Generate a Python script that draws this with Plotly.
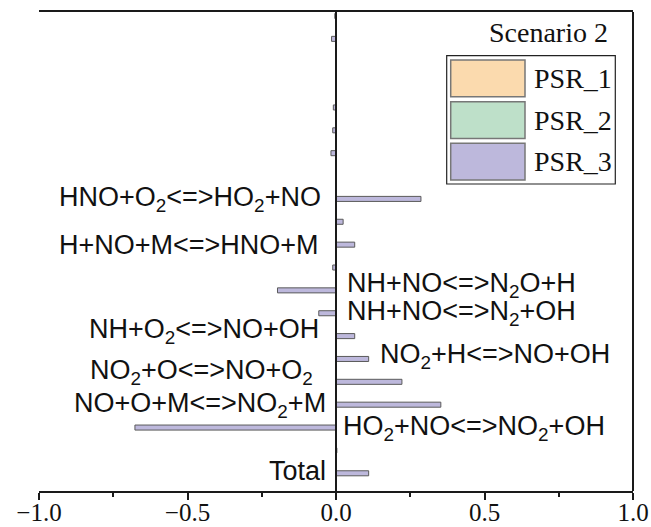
import plotly.graph_objects as go

# Reaction rows, listed from the top of the chart to the bottom
reactions = [
    "", "", "", "", "", "", "", "",
    "HNO+O<sub>2</sub>&lt;=&gt;HO<sub>2</sub>+NO",
    "",
    "H+NO+M&lt;=&gt;HNO+M",
    "",
    "NH+NO&lt;=&gt;N<sub>2</sub>O+H",
    "NH+NO&lt;=&gt;N<sub>2</sub>+OH",
    "NH+O<sub>2</sub>&lt;=&gt;NO+OH",
    "NO<sub>2</sub>+H&lt;=&gt;NO+OH",
    "NO<sub>2</sub>+O&lt;=&gt;NO+O<sub>2</sub>",
    "NO+O+M&lt;=&gt;NO<sub>2</sub>+M",
    "HO<sub>2</sub>+NO&lt;=&gt;NO<sub>2</sub>+OH",
    "",
    "Total",
]

# Sensitivity coefficients per reactor
psr_1 = [0.0] * 21
psr_2 = [0.0] * 21
psr_3 = [-0.004, -0.015, 0.0, 0.0, -0.009, -0.011, -0.017, 0.0,
         0.286, 0.024, 0.063, -0.011, -0.197, -0.058, 0.063,
         0.11, 0.222, 0.353, -0.677, 0.003, 0.11]

series_names = ["PSR_1", "PSR_2", "PSR_3"]
series_values = [psr_1, psr_2, psr_3]
series_colors = ["#FBDAAE", "#BEE0C9", "#BDB8DC"]

x_ticks = [-1.0, -0.5, 0.0, 0.5, 1.0]
legend_title = "Scenario 2"

rows = list(range(len(reactions)))

# Pixel geometry of the plotting area (for placing the hand-built legend)
W, H = 651, 527
ML, MR, MT, MB = 39, 18, 12, 36
PW, PH = W - ML - MR, H - MT - MB


def px(xp):
    return (xp - ML) / PW


def py(yp):
    return 1 - (yp - MT) / PH


fig = go.Figure()
for name, vals, col in zip(series_names, series_values, series_colors):
    fig.add_trace(go.Bar(
        x=vals, y=rows, orientation="h", name=name,
        width=0.22,
        marker=dict(color=col, line=dict(color="#5a5a5a", width=1)),
        showlegend=False,
    ))

sans = "Liberation Sans, Arial, sans-serif"
serif = "Liberation Serif, Times New Roman, serif"

# Reaction labels: (text anchor, x position, vertical pixel shift)
placement = {
    8: ("right", -0.045, 0),
    10: ("right", -0.05, 0),
    12: ("left", 0.029, 5),
    13: ("left", 0.029, 0),
    14: ("right", -0.05, 5),
    15: ("left", 0.14, 3),
    16: ("right", -0.072, 10),
    17: ("right", -0.028, 0),
    18: ("left", 0.017, 0),
    20: ("right", -0.028, 2),
}
for i, label in enumerate(reactions):
    if not label:
        continue
    anchor, xpos, shift = placement[i]
    fig.add_annotation(
        x=xpos, y=rows[i], xref="x", yref="y", text=label,
        showarrow=False, xanchor=anchor, yanchor="middle", yshift=shift,
        font=dict(family=sans, size=27, color="#111111"),
    )

# Vertical axis through zero and the right-hand frame line
fig.add_shape(type="line", xref="x", yref="paper", x0=0, x1=0, y0=0, y1=1,
              line=dict(color="#1a1a1a", width=2))
fig.add_shape(type="line", xref="paper", yref="paper", x0=1, x1=1, y0=0, y1=1,
              line=dict(color="#1a1a1a", width=2))

# Legend panel
fig.add_annotation(
    x=px(610), y=py(33), xref="paper", yref="paper", text=legend_title,
    showarrow=False, xanchor="right", yanchor="middle",
    font=dict(family=serif, size=28, color="#111111"),
)
fig.add_shape(type="rect", xref="paper", yref="paper",
              x0=px(446.7), x1=px(615.3), y0=py(55.7), y1=py(184),
              line=dict(color="#222222", width=1.2), fillcolor="white")
sw_tops = [60, 101.7, 143.3]
sw_h = 36.7
for name, col, top in zip(series_names, series_colors, sw_tops):
    fig.add_shape(type="rect", xref="paper", yref="paper",
                  x0=px(450.7), x1=px(525), y0=py(top), y1=py(top + sw_h),
                  line=dict(color="#777777", width=1.5), fillcolor=col)
    fig.add_annotation(
        x=px(532), y=py(top + sw_h / 2), xref="paper", yref="paper",
        text=name, showarrow=False, xanchor="left", yanchor="middle",
        font=dict(family=serif, size=28, color="#111111"),
    )

fig.update_layout(
    width=W, height=H,
    margin=dict(l=ML, r=MR, t=MT, b=MB, autoexpand=False),
    plot_bgcolor="white", paper_bgcolor="white",
    barmode="overlay",
    showlegend=False,
    xaxis=dict(
        range=[-1.0, 1.0], tickvals=x_ticks,
        ticktext=[f"{v:.1f}".replace("-", "\u2212") for v in x_ticks],
        showgrid=False, zeroline=False, automargin=False,
        showline=True, mirror=True, linecolor="#1a1a1a", linewidth=2,
        ticks="outside", ticklen=7, tickwidth=2, tickcolor="#1a1a1a",
        minor=dict(dtick=0.25, tick0=0, ticks="outside", ticklen=4,
                   tickwidth=2, tickcolor="#1a1a1a"),
        tickfont=dict(family=serif, size=25, color="#111111"),
        ticklabelstandoff=-9,
    ),
    yaxis=dict(
        range=[20.775, -0.175], showgrid=False, zeroline=False,
        showticklabels=False, ticks="", showline=False, automargin=False,
    ),
)

fig.write_html("out.html")
